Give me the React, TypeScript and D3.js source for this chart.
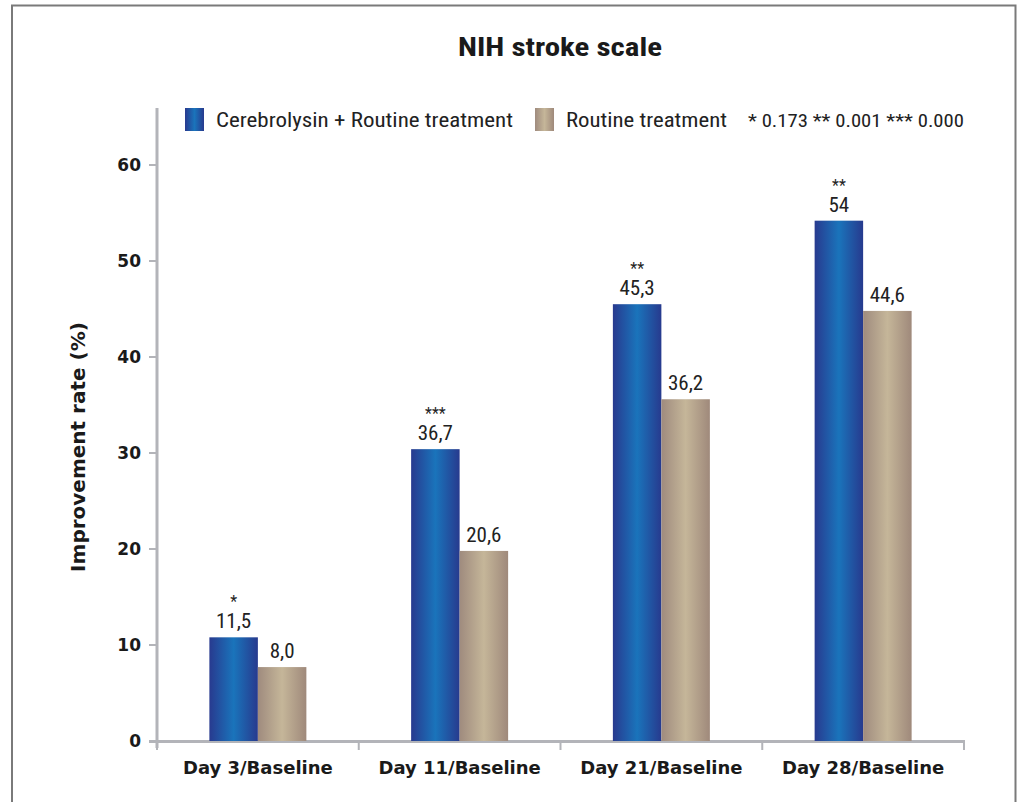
import React from "react";
import * as d3 from "d3";

const categories = ["Day 3/Baseline", "Day 11/Baseline", "Day 21/Baseline", "Day 28/Baseline"];
const seriesNames = ["Cerebrolysin + Routine treatment", "Routine treatment"];
const cerebrolysinValues = [10.8, 30.4, 45.5, 54.2];
const routineValues = [7.7, 19.8, 35.6, 44.8];
const cerebrolysinLabels = ["11,5", "36,7", "45,3", "54"];
const routineLabels = ["8,0", "20,6", "36,2", "44,6"];
const significance = ["*", "***", "**", "**"];
const yTicks = [0, 10, 20, 30, 40, 50, 60];
const pValueNote = "* 0.173 ** 0.001 *** 0.000";

const W = 1021;
const H = 802;
const condensed = "'Roboto Condensed', 'Liberation Sans Narrow', 'DejaVu Sans Condensed', 'Liberation Sans', sans-serif";
const heavy = "'DejaVu Sans', 'Liberation Sans', sans-serif";
const axisColor = "#b3b4b9";

export default function App() {
  const y = d3.scaleLinear().domain([0, 60]).range([741, 165]);
  const x0 = d3.scaleBand<string>().domain(categories).range([157, 964]).paddingInner(0).paddingOuter(0);
  const x1 = d3.scaleBand<number>().domain([0, 1]).range([0, x0.bandwidth()]).paddingInner(0).paddingOuter(1.08);

  const series = [
    { values: cerebrolysinValues, labels: cerebrolysinLabels, fill: "url(#gradBlue)" },
    { values: routineValues, labels: routineLabels, fill: "url(#gradTan)" },
  ];

  return (
    <svg width={W} height={H} style={{ position: "absolute", left: 0, top: 0, background: "#fff" }}>
      <defs>
        <linearGradient id="gradBlue" x1="0" x2="1" y1="0" y2="0">
          <stop offset="0%" stopColor="#283a8f" />
          <stop offset="50%" stopColor="#1a74bb" />
          <stop offset="100%" stopColor="#273a8e" />
        </linearGradient>
        <linearGradient id="gradTan" x1="0" x2="1" y1="0" y2="0">
          <stop offset="0%" stopColor="#9f8b7e" />
          <stop offset="50%" stopColor="#c5b699" />
          <stop offset="100%" stopColor="#9f897b" />
        </linearGradient>
      </defs>
      <rect x={0} y={0} width={W} height={H} fill="#fff" />
      {/* frame */}
      <path d={`M12,${H} L12,5.5 L1015.5,5.5 L1015.5,${H}`} fill="none" stroke="#7a7a7a" strokeWidth={2} />

      {/* title */}
      <text x={560} y={56} textAnchor="middle" fontFamily={condensed} fontWeight="bold" fontSize={26} fill="#1a1a1a" textLength={204} lengthAdjust="spacingAndGlyphs">
        NIH stroke scale
      </text>

      {/* legend */}
      <rect x={185} y={108} width={19} height={23} fill="url(#gradBlue)" />
      <text x={216} y={127} fontFamily={condensed} fontSize={21} fill="#222" textLength={297} lengthAdjust="spacingAndGlyphs">
        {seriesNames[0]}
      </text>
      <rect x={535} y={108} width={19} height={23} fill="url(#gradTan)" />
      <text x={566} y={127} fontFamily={condensed} fontSize={21} fill="#222" textLength={161} lengthAdjust="spacingAndGlyphs">
        {seriesNames[1]}
      </text>
      <text x={748} y={127} fontFamily={condensed} fontSize={18} fill="#222" textLength={216} lengthAdjust="spacingAndGlyphs">
        {pValueNote}
      </text>

      {/* y axis */}
      <line x1={157} x2={157} y1={108} y2={748} stroke={axisColor} strokeWidth={3} />
      {yTicks.map((t) => (
        <g key={t}>
          <line x1={149} x2={157} y1={y(t)} y2={y(t)} stroke={axisColor} strokeWidth={2} />
          <text x={141} y={y(t) + 6} textAnchor="end" fontFamily={heavy} fontWeight="bold" fontSize={17} fill="#1a1a1a">
            {t}
          </text>
        </g>
      ))}
      <text
        transform={`translate(85,447) rotate(-90)`}
        textAnchor="middle"
        fontFamily={heavy}
        fontWeight="bold"
        fontSize={20}
        fill="#1a1a1a"
      >
        Improvement rate (%)
      </text>

      {/* x axis */}
      <line x1={149} x2={965} y1={741.5} y2={741.5} stroke={axisColor} strokeWidth={3} />
      {[...categories.map((c) => x0(c) as number), 964].map((tx, i) => (
        <line key={i} x1={tx} x2={tx} y1={741} y2={750} stroke={axisColor} strokeWidth={2} />
      ))}
      {categories.map((c) => (
        <text
          key={c}
          x={(x0(c) as number) + x0.bandwidth() / 2}
          y={774}
          textAnchor="middle"
          fontFamily={heavy}
          fontWeight="bold"
          fontSize={18}
          fill="#1a1a1a"
        >
          {c}
        </text>
      ))}

      {/* bars */}
      {categories.map((c, ci) => (
        <g key={c} transform={`translate(${x0(c)},0)`}>
          {series.map((s, si) => {
            const bx = x1(si) as number;
            const bw = x1.bandwidth();
            const v = s.values[ci];
            return (
              <g key={si}>
                <rect x={bx} y={y(v)} width={bw} height={y(0) - y(v)} fill={s.fill} />
                <text
                  x={bx + bw / 2}
                  y={y(v) - 9}
                  textAnchor="middle"
                  fontFamily={condensed}
                  fontSize={21}
                  fill="#222"
                >
                  {s.labels[ci]}
                </text>
                {si === 0 && (
                  <text
                    x={bx + bw / 2}
                    y={y(v) - 30}
                    textAnchor="middle"
                    fontFamily={condensed}
                    fontSize={16}
                    fill="#222"
                  >
                    {significance[ci]}
                  </text>
                )}
              </g>
            );
          })}
        </g>
      ))}
    </svg>
  );
}
